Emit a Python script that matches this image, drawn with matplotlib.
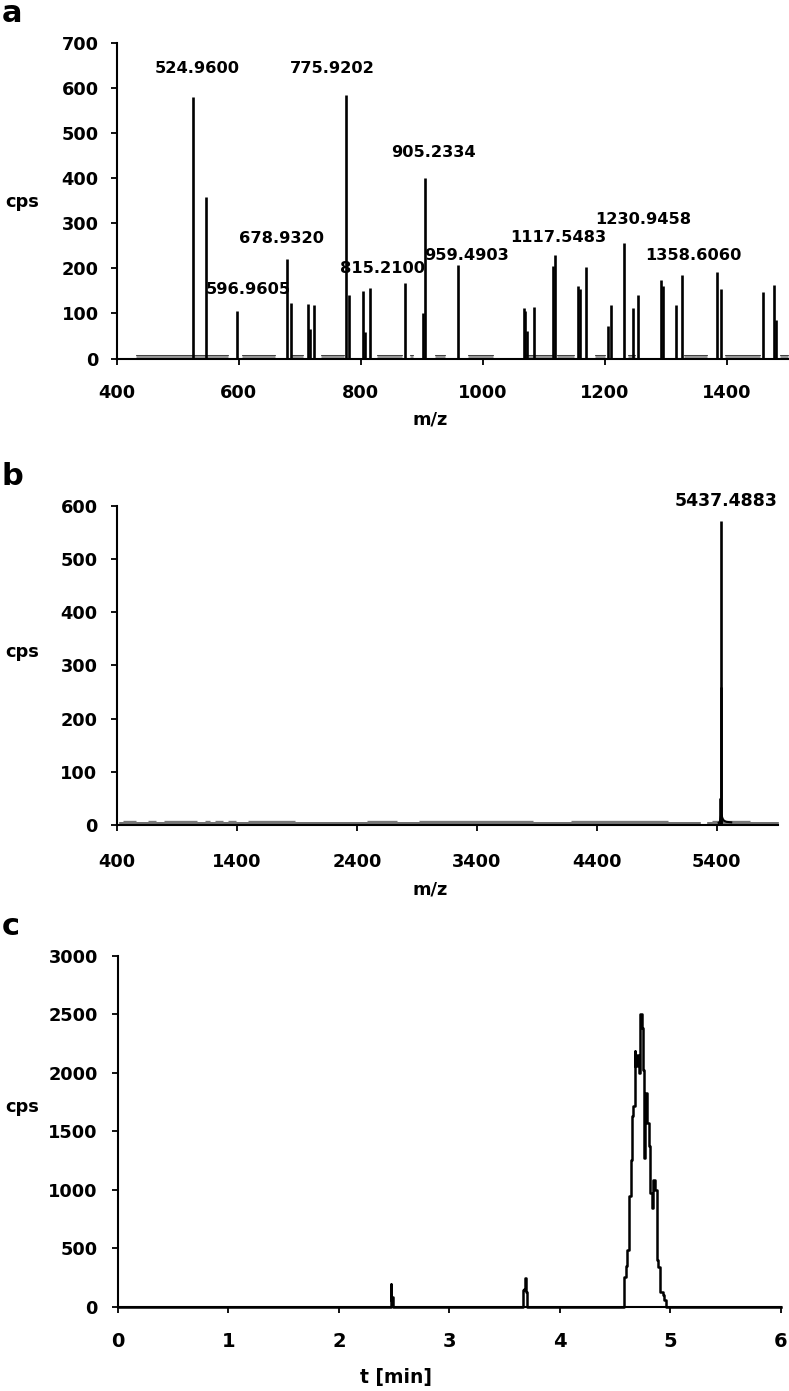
import matplotlib
matplotlib.use("Agg")
import matplotlib.pyplot as plt

plt.rcParams['font.family'] = ['DejaVu Sans']
plt.rcParams['font.weight'] = 'bold'

# ---------------- Panel a data: MS spectrum ----------------
a_mz = [524.96, 546.4, 596.96, 678.93, 684.8, 714.0, 717.4, 723.3, 775.92, 780.2,
        803.8, 807.6, 815.21, 871.6, 902.5, 905.23, 959.49, 1066.6, 1069.4, 1072.0,
        1084.3, 1115.0, 1117.55, 1155.9, 1158.7, 1168.6, 1204.3, 1209.9, 1230.95,
        1246.8, 1253.9, 1292.6, 1295.9, 1316.2, 1325.6, 1383.5, 1390.6, 1458.8,
        1477.0, 1481.0]
a_cps = [580, 358, 105, 220, 123, 121, 65, 118, 584, 141,
         150, 58, 157, 167, 100, 400, 207, 112, 105, 60,
         115, 204, 230, 160, 155, 202, 71, 119, 255,
         112, 141, 174, 160, 119, 185, 191, 154, 147,
         163, 85]
a_labels = ["524.9600", "775.9202", "905.2334", "678.9320", "596.9605",
            "815.2100", "959.4903", "1117.5483", "1230.9458", "1358.6060"]
a_label_x = [531.5, 753.6, 919, 670, 616, 835.6, 974, 1124, 1262, 1345]
a_label_y = [642, 642, 457, 267, 154, 199, 229, 268, 307, 229]
a_base_start = [431, 605, 685, 734, 826, 880, 921, 976, 1071, 1121, 1184, 1238, 1329, 1396, 1487]
a_base_end = [582, 660, 705, 772, 868, 886, 938, 1017, 1113, 1150, 1200, 1250, 1367, 1454, 1500]
a_xticks = [400, 600, 800, 1000, 1200, 1400]
a_yticks = [0, 100, 200, 300, 400, 500, 600, 700]

# ---------------- Panel b data: deconvoluted spectrum ----------------
b_peak_mz = [5430.0, 5433.0, 5437.49]
b_peak_cps = [50, 260, 572]
b_hump_mz = [5415, 5425, 5432, 5436, 5440, 5448, 5460, 5480, 5520]
b_hump_cps = [4, 6, 14, 20, 18, 12, 8, 6, 5]
b_base_start = [426, 5330]
b_base_end = [5259, 5910]
b_raise_start = [451, 661, 793, 1136, 1220, 1325, 1488, 2485, 2915, 4183, 5360]
b_raise_end = [559, 728, 1069, 1178, 1283, 1388, 1880, 2736, 3864, 4993, 5680]
b_label = "5437.4883"
b_xticks = [400, 1400, 2400, 3400, 4400, 5400]
b_yticks = [0, 100, 200, 300, 400, 500, 600]

# ---------------- Panel c data: chromatogram ----------------
c_t = [0.0, 2.465, 2.47, 2.475, 2.48, 2.485, 2.49, 2.495, 2.50,
       3.66, 3.665, 3.67, 3.68, 3.69, 3.695, 3.70, 3.705, 3.71,
       4.575, 4.58, 4.59, 4.60, 4.615, 4.633, 4.65, 4.66, 4.674, 4.68, 4.69,
       4.706, 4.724, 4.733, 4.747, 4.756, 4.77, 4.78, 4.80, 4.81, 4.83,
       4.84, 4.856, 4.87, 4.884, 4.90, 4.92, 4.94, 4.95, 4.975, 6.0]
c_cps = [0, 0, 190, 60, 50, 80, 40, 0, 0,
         0, 100, 140, 150, 248, 200, 130, 120, 0,
         0, 30, 257, 350, 486, 943, 1257, 1629, 1714, 2186, 2057,
         2157, 2000, 2500, 2386, 2029, 1271, 1829, 1571, 1371, 971,
         843, 1086, 1000, 400, 343, 129, 100, 57, 0, 0]
c_xticks = [0, 1, 2, 3, 4, 5, 6]
c_yticks = [0, 500, 1000, 1500, 2000, 2500, 3000]

W, H = 789, 1391
fig = plt.figure(figsize=(W / 100, H / 100), dpi=100)


def fx(px):
    return px / W


def fy(py):
    return 1 - py / H


def style(ax, xlab_pad, ylab_pad, xsize=12.8, ysize=12.8):
    for s in ['top', 'right']:
        ax.spines[s].set_visible(False)
    for s in ['left', 'bottom']:
        ax.spines[s].set_linewidth(1.5)
        ax.spines[s].set_color('black')
    ax.tick_params(axis='both', direction='out', length=4.5, width=1.3, color='black')
    ax.tick_params(axis='x', pad=xlab_pad, labelsize=xsize)
    ax.tick_params(axis='y', pad=ylab_pad, labelsize=ysize)
    for lab in ax.get_xticklabels() + ax.get_yticklabels():
        lab.set_fontweight('bold')


# ---- Panel a ----
axa = fig.add_axes([fx(116.7), fy(358.5), fx(788 - 116.7), (358.5 - 42.7) / H])
for s, e in zip(a_base_start, a_base_end):
    axa.plot([s, e], [5, 5], color='#999999', lw=2.2, solid_capstyle='butt', zorder=1)
    axa.plot([s, e], [7, 7], color='#333333', lw=0.6, zorder=1)
axa.vlines(a_mz, 0, a_cps, colors='black', linewidth=1.9, zorder=3)
for t, x, y in zip(a_labels, a_label_x, a_label_y):
    axa.text(x, y, t, ha='center', va='center', fontsize=11.7, fontweight='bold')
axa.set_xlim(400, 1500)
axa.set_ylim(0, 700)
axa.set_xticks(a_xticks)
axa.set_yticks(a_yticks)
axa.set_clip_on(False)
style(axa, 14, 8.5)

# ---- Panel b ----
axb = fig.add_axes([fx(117), fy(825), fx(778 - 117), (825 - 506) / H])
for s, e in zip(b_base_start, b_base_end):
    axb.plot([s, e], [3, 3], color='#555555', lw=1.2, zorder=1)
for s, e in zip(b_raise_start, b_raise_end):
    axb.plot([s, e], [5, 5], color='#777777', lw=2.4, solid_capstyle='butt', zorder=1)
axb.plot(b_hump_mz, b_hump_cps, color='black', lw=1.5, zorder=2)
axb.vlines(b_peak_mz, 0, b_peak_cps, colors='black', linewidth=1.9, zorder=3)
axb.text(5480, 609, b_label, ha='center', va='center', fontsize=12.5, fontweight='bold')
axb.set_xlim(400, 5910)
axb.set_ylim(0, 600)
axb.set_xticks(b_xticks)
axb.set_yticks(b_yticks)
style(axb, 16, 9.5)

# ---- Panel c ----
axc = fig.add_axes([fx(118), fy(1306.7), fx(780.7 - 118), (1306.7 - 956) / H])
axc.plot(c_t, c_cps, color='black', lw=1.8, drawstyle='steps-mid', zorder=3)
axc.set_xlim(0, 6)
axc.set_ylim(0, 3000)
axc.set_xticks(c_xticks)
axc.set_yticks(c_yticks)
style(axc, 14, 10, xsize=14, ysize=12.8)
for ax in (axa, axb, axc):
    for line in ax.lines:
        line.set_clip_on(False)

# ---- Text labels ----
fig.text(fx(2), fy(22), 'a', fontsize=22, fontweight='bold', ha='left', va='baseline')
fig.text(fx(2), fy(485), 'b', fontsize=22, fontweight='bold', ha='left', va='baseline')
fig.text(fx(2), fy(935), 'c', fontsize=22, fontweight='bold', ha='left', va='baseline')
for yc in (202, 652, 1107):
    fig.text(fx(22), fy(yc), 'cps', fontsize=12.8, fontweight='bold', ha='center', va='center')
fig.text(fx(430), fy(420), 'm/z', fontsize=12.8, fontweight='bold', ha='center', va='center')
fig.text(fx(430), fy(890), 'm/z', fontsize=12.8, fontweight='bold', ha='center', va='center')
fig.text(fx(396), fy(1377), 't [min]', fontsize=13.5, fontweight='bold', ha='center', va='center')

fig.savefig('out.png', dpi=100, facecolor='white')
